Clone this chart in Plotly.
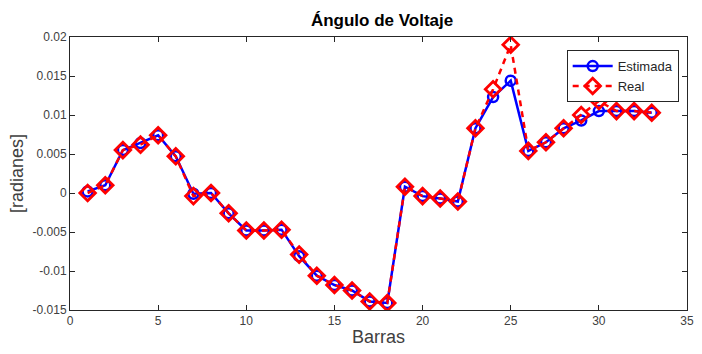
import plotly.graph_objects as go

# Bus numbers and voltage angle values (rad)
barras = list(range(1, 34))
estimada = [0.0002, 0.0010, 0.0055, 0.0064, 0.0074, 0.0047, -0.0001, 0.0000,
            -0.0026, -0.0048, -0.0048, -0.0047, -0.0081, -0.0106, -0.0118,
            -0.0125, -0.0139, -0.0141, 0.0008, -0.0004, -0.0007, -0.0011,
            0.0083, 0.0123, 0.0144, 0.0054, 0.0065, 0.0083, 0.0093, 0.0105,
            0.0105, 0.0105, 0.0103]
real = [0.0000, 0.0010, 0.0055, 0.0062, 0.0074, 0.0047, -0.0004, 0.0000,
        -0.0026, -0.0048, -0.0048, -0.0047, -0.0079, -0.0106, -0.0118,
        -0.0125, -0.0139, -0.0141, 0.0008, -0.0004, -0.0007, -0.0011,
        0.0083, 0.0133, 0.0190, 0.0054, 0.0065, 0.0083, 0.0100, 0.0118,
        0.0105, 0.0105, 0.0103]

x_ticks = [0, 5, 10, 15, 20, 25, 30, 35]
y_ticks = [-0.015, -0.01, -0.005, 0, 0.005, 0.01, 0.015, 0.02]
y_labels = ["-0.015", "-0.01", "-0.005", "0", "0.005", "0.01", "0.015", "0.02"]

FONT = "Liberation Sans, Arial"

fig = go.Figure()
fig.add_trace(go.Scatter(
    x=barras, y=estimada, name="Estimada", mode="lines+markers",
    line=dict(color="#0000ff", width=2.5),
    marker=dict(symbol="circle-open", size=10, color="#0000ff",
                line=dict(width=2.5, color="#0000ff")),
))
fig.add_trace(go.Scatter(
    x=barras, y=real, name="Real", mode="lines+markers",
    line=dict(color="#ff0000", width=2.5, dash="6px,5px"),
    marker=dict(symbol="diamond-open", size=12, color="#ff0000",
                line=dict(width=2.8, color="#ff0000")),
))

axis_common = dict(
    showline=True, linecolor="#262626", linewidth=1, mirror="allticks",
    ticks="inside", ticklen=5, tickcolor="#262626", showgrid=False,
    zeroline=False, tickfont=dict(family=FONT, size=12, color="#404040"),
)

fig.update_layout(
    width=702, height=354,
    margin=dict(l=70, r=8, t=37, b=44),
    paper_bgcolor="white", plot_bgcolor="white",
    title=dict(text="<b>Ángulo de Voltaje</b>", x=0.5443, xanchor="center",
               y=0.9435, yanchor="middle",
               font=dict(family=FONT, size=17, color="#000000")),
    xaxis=dict(range=[0, 35], tickvals=x_ticks,
               title=dict(text="Barras", standoff=2,
                          font=dict(family=FONT, size=18, color="#404040")),
               **axis_common),
    yaxis=dict(range=[-0.015, 0.02], tickvals=y_ticks, ticktext=y_labels,
               title=dict(text="[radianes]", standoff=4,
                          font=dict(family=FONT, size=18, color="#404040")),
               **axis_common),
    legend=dict(x=0.805, y=0.952, xanchor="left", yanchor="top",
                bgcolor="white", bordercolor="#262626", borderwidth=1,
                font=dict(family=FONT, size=13, color="#262626"),
                tracegroupgap=0, itemwidth=40),
    showlegend=True,
)

fig.write_html("out.html")
